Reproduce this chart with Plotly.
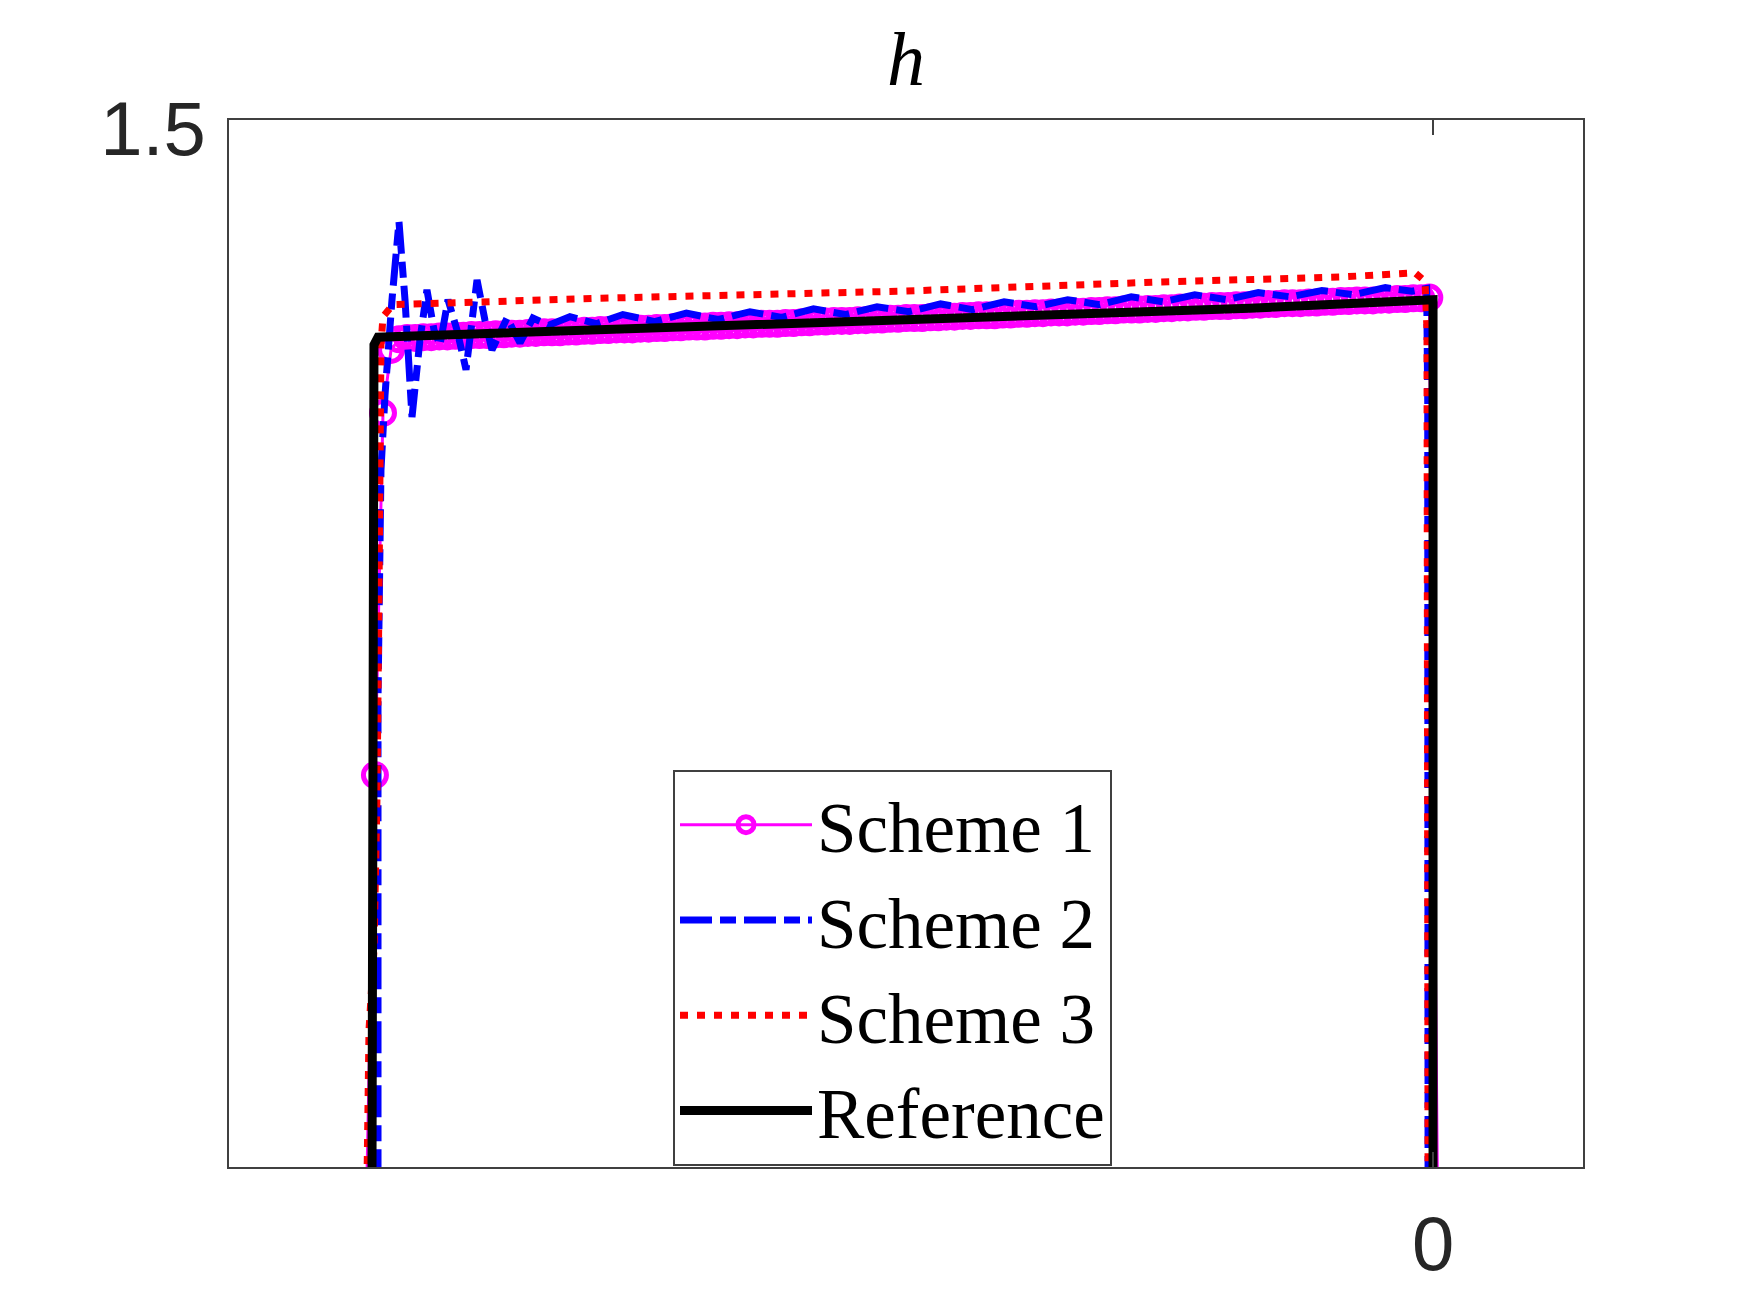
import plotly.graph_objects as go

# ---------------- data ----------------
# Scheme 1 (magenta, circles at every grid point)
s1_x = [-1.0067, -0.9991, -0.9915, -0.9839, -0.9763, -0.9687, -0.9611, -0.9535, -0.9459, -0.9383,
        -0.9307, -0.9231, -0.9155, -0.9079, -0.9003, -0.8927, -0.8851, -0.8775, -0.8699, -0.8623,
        -0.8547, -0.8471, -0.8395, -0.8319, -0.8243, -0.8167, -0.8091, -0.8015, -0.7939, -0.7863,
        -0.7787, -0.7711, -0.7635, -0.7559, -0.7483, -0.7407, -0.7331, -0.7255, -0.7179, -0.7103,
        -0.7027, -0.6951, -0.6875, -0.6799, -0.6723, -0.6647, -0.6571, -0.6495, -0.6419, -0.6343,
        -0.6267, -0.6191, -0.6115, -0.6039, -0.5963, -0.5887, -0.5811, -0.5735, -0.5659, -0.5583,
        -0.5507, -0.5431, -0.5355, -0.5279, -0.5203, -0.5127, -0.5051, -0.4975, -0.4899, -0.4823,
        -0.4747, -0.4671, -0.4595, -0.4519, -0.4443, -0.4367, -0.4291, -0.4215, -0.4139, -0.4063,
        -0.3987, -0.3911, -0.3835, -0.3759, -0.3683, -0.3607, -0.3531, -0.3455, -0.3379, -0.3303,
        -0.3227, -0.3151, -0.3075, -0.2999, -0.2923, -0.2847, -0.2771, -0.2695, -0.2619, -0.2543,
        -0.2467, -0.2391, -0.2315, -0.2239, -0.2163, -0.2087, -0.2011, -0.1935, -0.1859, -0.1783,
        -0.1707, -0.1631, -0.1555, -0.1479, -0.1403, -0.1327, -0.1251, -0.1175, -0.1099, -0.1023,
        -0.0947, -0.0871, -0.0795, -0.0719, -0.0643, -0.0567, -0.0491, -0.0415, -0.0339, -0.0263,
        -0.0187, -0.0111, -0.0035, 0.0041]
s1_h = [0.000, 0.574, 1.086, 1.175, 1.190, 1.192, 1.192, 1.193, 1.193, 1.194,
        1.194, 1.195, 1.195, 1.196, 1.196, 1.196, 1.197, 1.197, 1.198, 1.198,
        1.199, 1.199, 1.200, 1.200, 1.200, 1.201, 1.201, 1.202, 1.202, 1.203,
        1.203, 1.204, 1.204, 1.204, 1.205, 1.205, 1.206, 1.206, 1.207, 1.207,
        1.208, 1.208, 1.208, 1.209, 1.209, 1.210, 1.210, 1.211, 1.211, 1.212,
        1.212, 1.212, 1.213, 1.213, 1.214, 1.214, 1.215, 1.215, 1.216, 1.216,
        1.216, 1.217, 1.217, 1.218, 1.218, 1.219, 1.219, 1.220, 1.220, 1.220,
        1.221, 1.221, 1.222, 1.222, 1.223, 1.223, 1.224, 1.224, 1.224, 1.225,
        1.225, 1.226, 1.226, 1.227, 1.227, 1.228, 1.228, 1.228, 1.229, 1.229,
        1.230, 1.230, 1.231, 1.231, 1.232, 1.232, 1.232, 1.233, 1.233, 1.234,
        1.234, 1.235, 1.235, 1.236, 1.236, 1.237, 1.237, 1.237, 1.238, 1.238,
        1.239, 1.239, 1.240, 1.240, 1.241, 1.241, 1.241, 1.242, 1.242, 1.243,
        1.243, 1.244, 1.244, 1.245, 1.245, 1.245, 1.246, 1.246, 1.247, 1.247,
        1.248, 1.248, 1.249, 0.000]

# Scheme 2 (blue, oscillating near the left front)
s2_x = [-0.9962, -0.9962, -0.9934, -0.9896, -0.9830, -0.9764, -0.9707, -0.9641, -0.9566, -0.9500,
        -0.9433, -0.9377, -0.9301, -0.9216, -0.9131, -0.9027, -0.8952, -0.8886, -0.8744, -0.8621,
        -0.8499, -0.835, -0.815, -0.790, -0.765, -0.735, -0.705, -0.675, -0.645, -0.615,
        -0.585, -0.555, -0.525, -0.495, -0.465, -0.435, -0.405, -0.375, -0.345, -0.315,
        -0.285, -0.255, -0.225, -0.195, -0.165, -0.135, -0.105, -0.075, -0.045, -0.020,
        -0.006, -0.0050, -0.0047]
s2_h = [0.000, 0.680, 1.005, 1.111, 1.246, 1.356, 1.246, 1.080, 1.189, 1.260,
        1.203, 1.182, 1.246, 1.203, 1.147, 1.274, 1.217, 1.175, 1.220, 1.185,
        1.220, 1.210, 1.222, 1.212, 1.225, 1.215, 1.227, 1.218, 1.229, 1.221,
        1.233, 1.225, 1.236, 1.229, 1.240, 1.232, 1.243, 1.236, 1.246, 1.239,
        1.250, 1.243, 1.253, 1.246, 1.256, 1.250, 1.259, 1.253, 1.263, 1.258,
        1.262, 1.100, 0.000]

# Scheme 3 (red, smooth)
s3_x = [-1.0066, -1.0047, -1.0000, -0.9972, -0.9953, -0.9943, -0.9934, -0.9915, -0.9820,
        -0.787, -0.503, -0.258, -0.088, -0.017, -0.0076, -0.0057, -0.0047]
s3_h = [0.000, 0.214, 0.327, 0.539, 0.822, 1.076, 1.182, 1.222, 1.239,
        1.248, 1.258, 1.271, 1.278, 1.284, 1.272, 1.203, 0.000]

# Reference solution (black)
ref_x = [-1.0019, -1.0000, -0.9962, -0.787, -0.503, -0.173, 0.0, 0.0]
ref_h = [0.000, 1.182, 1.193, 1.203, 1.217, 1.234, 1.246, 0.000]

names = ["Scheme 1", "Scheme 2", "Scheme 3", "Reference"]
x_ticks = [0]
y_ticks = [1.5]
x_range = [-1.1369, 0.1416]
y_range = [0.02, 1.5]

# ---------------- figure ----------------
fig = go.Figure()
fig.add_trace(go.Scatter(x=s1_x, y=s1_h, name=names[0], mode="lines+markers",
                         line=dict(color="#ff00ff", width=3),
                         marker=dict(symbol="circle-open", size=23, color="#ff00ff",
                                     line=dict(width=5, color="#ff00ff"))))
fig.add_trace(go.Scatter(x=s2_x, y=s2_h, name=names[1], mode="lines",
                         line=dict(color="#0000ff", width=7, dash="32px,8px,16px,8px")))
fig.add_trace(go.Scatter(x=s3_x, y=s3_h, name=names[2], mode="lines",
                         line=dict(color="#ff0000", width=7, dash="8px,9px")))
fig.add_trace(go.Scatter(x=ref_x, y=ref_h, name=names[3], mode="lines",
                         line=dict(color="#000000", width=9)))

axis_common = dict(showgrid=False, zeroline=False, showline=True, mirror="ticks",
                   linecolor="#404040", linewidth=2, ticks="inside", ticklen=15,
                   tickwidth=2, tickcolor="#404040",
                   tickfont=dict(family="Liberation Sans", size=76, color="#262626"))

fig.update_layout(
    width=1750, height=1313,
    margin=dict(l=229, r=167, t=120, b=146),
    paper_bgcolor="white", plot_bgcolor="white",
    title=dict(text="<i>h</i>", font=dict(family="Liberation Serif", size=76, color="black"),
               x=0.5, xref="paper", xanchor="center",
               y=1 - 58 / 1313, yref="container", yanchor="middle"),
    xaxis=dict(range=x_range, tickvals=x_ticks, ticktext=[str(v) for v in x_ticks],
               ticklabelstandoff=10, **axis_common),
    yaxis=dict(range=y_range, tickvals=y_ticks, ticktext=[str(v) for v in y_ticks],
               ticklabelstandoff=6, ticklabelshift=8, **axis_common),
    legend=dict(x=(673 - 229) / 1354, y=(1167 - 770) / 1047, xanchor="left", yanchor="top",
                bgcolor="white", bordercolor="#404040", borderwidth=2,
                font=dict(family="Liberation Serif", size=71, color="black"),
                itemwidth=132, tracegroupgap=0),
    showlegend=True,
)

fig.write_html("out.html")
